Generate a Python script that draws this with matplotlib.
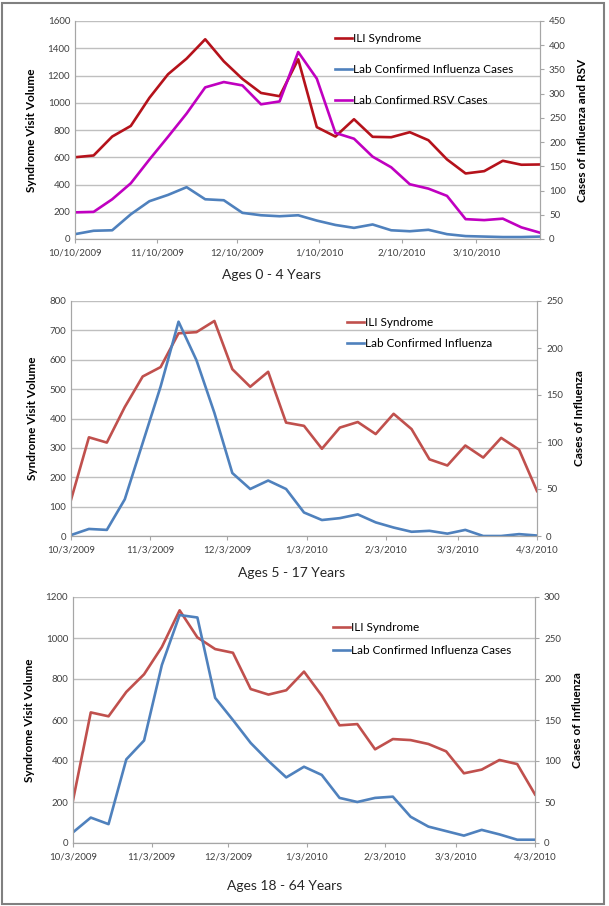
import matplotlib
matplotlib.use('Agg')
import matplotlib.pyplot as plt
import matplotlib.dates as mdates
import pandas as pd

plt.rcParams['font.family'] = ['Lato', 'DejaVu Sans']

# weekly dates
weeks_0_4 = pd.date_range('2009-10-10', periods=26, freq='7D')
weeks_old = pd.date_range('2009-10-03', periods=27, freq='7D')

# Ages 0 - 4
ili_0_4 = [600, 613, 752, 830, 1036, 1209, 1324, 1466, 1304, 1175, 1072, 1048, 1319,
           821, 752, 879, 750, 747, 784, 725, 584, 481, 498, 574, 545, 547]
flu_0_4 = [10, 17, 18, 51, 78, 91, 107, 82, 80, 54, 49, 47, 49,
           38, 29, 23, 30, 18, 16, 19, 10, 6, 5, 4, 4, 5]
rsv_0_4 = [55, 56, 82, 115, 164, 211, 259, 313, 324, 317, 278, 284, 386,
           331, 219, 207, 170, 148, 113, 104, 89, 41, 39, 42, 24, 13]

# Ages 5 - 17
ili_5_17 = [123, 336, 318, 439, 543, 575, 690, 694, 732, 568, 508, 559, 386, 375,
            297, 369, 388, 347, 416, 364, 261, 240, 308, 267, 334, 294, 153]
flu_5_17 = [1, 7.5, 6.5, 39, 99, 159, 228, 187, 131, 67, 50, 59, 50, 25,
            17, 19, 23, 14.5, 9, 4.5, 5.5, 2.5, 6.5, 0, 0, 2, 0.5]

# Ages 18 - 64
ili_18_64 = [208, 637, 618, 737, 823, 956, 1135, 1003, 946, 928, 751, 724, 745, 836,
             719, 574, 580, 457, 507, 502, 483, 447, 340, 358, 405, 385, 237]
flu_18_64 = [13, 31, 23, 102, 125, 217, 278, 275, 177, 150, 122, 100, 80, 93,
             83, 55, 50, 55, 56.5, 32, 20, 14.5, 9, 16, 10.5, 4, 4]

W, H = 609, 906
fig = plt.figure(figsize=(W / 100, H / 100), dpi=100)

grid_c = '#BFBFBF'
tick_c = '#404040'


def rect(l, t, r, b):
    return [l / W, 1 - b / H, (r - l) / W, (b - t) / H]


def panel(box, x, series, ymax, ystep, y2max, y2step, ticks, ylab2,
          leg_xy, leg_space, title, title_xy):
    ax = fig.add_axes(rect(*box))
    ax2 = ax.twinx()
    handles = []
    for vals, col, lab, right in series:
        a = ax2 if right else ax
        h, = a.plot(x, vals, color=col, lw=1.9, label=lab)
        handles.append(h)
    ax.set_ylim(0, ymax)
    ax2.set_ylim(0, y2max)
    ax.set_yticks(range(0, ymax + 1, ystep))
    ax2.set_yticks(range(0, y2max + 1, y2step))
    ax.set_xlim(x[0], x[-1])
    ax.set_xticks(pd.to_datetime(ticks))
    ax.set_xticklabels([t.split('-')[1].lstrip('0') + '/' + t.split('-')[2].lstrip('0') + '/' + t.split('-')[0]
                        for t in ticks])
    ax.grid(axis='y', color=grid_c, lw=1)
    ax.set_axisbelow(True)
    for a in (ax, ax2):
        a.spines['top'].set_visible(False)
        for s in ('left', 'right', 'bottom'):
            a.spines[s].set_color('#A6A6A6')
        a.tick_params(labelsize=7, colors=tick_c, length=3, width=0.8)
    ax.tick_params(axis='y', length=0)
    ax2.tick_params(axis='y', length=3, color='#A6A6A6')
    ax.tick_params(axis='x', color='#A6A6A6')
    ax.set_ylabel('Syndrome Visit Volume', fontsize=8.5, fontweight='bold', labelpad=8)
    ax2.set_ylabel(ylab2, fontsize=8.5, fontweight='bold', labelpad=8)
    ax2.legend(handles=handles, loc='upper left',
               bbox_to_anchor=(leg_xy[0] / W, 1 - leg_xy[1] / H),
               bbox_transform=fig.transFigure, frameon=False,
               fontsize=8.5, handlelength=1.45, handletextpad=0.1,
               labelspacing=leg_space, borderpad=0, borderaxespad=0)
    fig.text(title_xy[0] / W, 1 - title_xy[1] / H, title, fontsize=10,
             ha='center', va='center', color='#262626')
    return ax


panel((75, 21, 540, 239), weeks_0_4,
      [(ili_0_4, '#B5121B', 'ILI Syndrome', False),
       (flu_0_4, '#4F81BD', 'Lab Confirmed Influenza Cases', True),
       (rsv_0_4, '#C000C0', 'Lab Confirmed RSV Cases', True)],
      1600, 200, 450, 50,
      ['2009-10-10', '2009-11-10', '2009-12-10', '2010-01-10', '2010-02-10', '2010-03-10'],
      'Cases of Influenza and RSV', (335, 33), 1.68, 'Ages 0 - 4 Years', (272, 275))

panel((71, 301, 537, 536), weeks_old,
      [(ili_5_17, '#C0504D', 'ILI Syndrome', False),
       (flu_5_17, '#4F81BD', 'Lab Confirmed Influenza', True)],
      800, 100, 250, 50,
      ['2009-10-03', '2009-11-03', '2009-12-03', '2010-01-03', '2010-02-03', '2010-03-03', '2010-04-03'],
      'Cases of Influenza', (347, 317), 0.82, 'Ages 5 - 17 Years', (292, 573))

panel((73, 597, 535, 843), weeks_old,
      [(ili_18_64, '#C0504D', 'ILI Syndrome', False),
       (flu_18_64, '#4F81BD', 'Lab Confirmed Influenza Cases', True)],
      1200, 200, 300, 50,
      ['2009-10-03', '2009-11-03', '2009-12-03', '2010-01-03', '2010-02-03', '2010-03-03', '2010-04-03'],
      'Cases of Influenza', (333, 622), 1.0, 'Ages 18 - 64 Years', (285, 886))

# outer frame
fig.patches.append(plt.Rectangle((2 / W, 2 / H), 602 / W, 901 / H, transform=fig.transFigure,
                                 fill=False, edgecolor='#808080', lw=1.5))

fig.savefig('out.png', dpi=100)
